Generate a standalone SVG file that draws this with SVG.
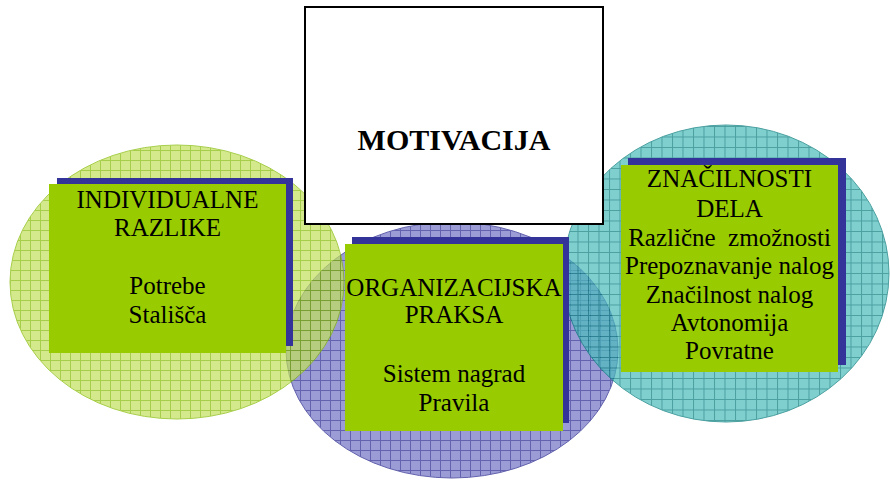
<svg xmlns="http://www.w3.org/2000/svg" width="890" height="481" viewBox="0 0 890 481">
  <style>
    .lbl { font-family: "Liberation Serif", "Times New Roman", serif; font-size: 25px; fill: #000; text-anchor: middle; white-space: pre; }
    .title { font-family: "Liberation Serif", "Times New Roman", serif; font-size: 30px; font-weight: bold; fill: #000; text-anchor: middle; }
    .card { fill: #99cc00; }
    .shadow { fill: #333399; }
  </style>
  <defs>
    <pattern id="pGreen" width="10" height="10" patternUnits="userSpaceOnUse">
      <rect width="10" height="10" fill="#c2e15b"/>
      <path d="M0 0.5H10M0.5 0V10" stroke="#83ba00" stroke-width="1"/>
    </pattern>
    <pattern id="pPurple" width="10" height="10" patternUnits="userSpaceOnUse">
      <rect width="10" height="10" fill="#7272c4"/>
      <path d="M0 0.5H10M0.5 0V10" stroke="#20208c" stroke-width="1"/>
    </pattern>
    <pattern id="pTeal" width="10.5" height="10.5" patternUnits="userSpaceOnUse">
      <rect width="10.5" height="10.5" fill="#4abcbc"/>
      <path d="M0 0.5H10.5M0.5 0V10.5" stroke="#007878" stroke-width="1"/>
    </pattern>
  </defs>
  <rect width="890" height="481" fill="#ffffff"/>

  <g id="ellipses">
    <ellipse id="ellipse-purple" cx="452" cy="350" rx="166" ry="128" fill="url(#pPurple)" stroke="#20208c" stroke-width="1" opacity="0.7"/>
    <ellipse id="ellipse-green" cx="177" cy="282" rx="167" ry="137" fill="url(#pGreen)" stroke="#83ba00" stroke-width="1" opacity="0.7"/>
    <ellipse id="ellipse-teal" cx="726" cy="273.5" rx="163" ry="148.5" fill="url(#pTeal)" stroke="#007878" stroke-width="1" opacity="0.7"/>
  </g>

  <g id="connectors"></g>

  <g id="node-individualne">
    <rect class="shadow" x="57" y="178" width="236" height="168"/>
    <rect class="card" x="49" y="184" width="237" height="169"/>
    <text class="lbl" x="167.5" y="208">INDIVIDUALNE</text>
    <text class="lbl" x="167.5" y="236">RAZLIKE</text>
    <text class="lbl" x="167.5" y="294">Potrebe</text>
    <text class="lbl" x="167.5" y="323">Stališča</text>
  </g>

  <g id="node-organizacijska">
    <rect class="shadow" x="352" y="237" width="217" height="186"/>
    <rect class="card" x="345" y="244" width="218" height="187"/>
    <text class="lbl" x="454" y="296">ORGANIZACIJSKA</text>
    <text class="lbl" x="454" y="323">PRAKSA</text>
    <text class="lbl" x="454" y="382">Sistem nagrad</text>
    <text class="lbl" x="454" y="411">Pravila</text>
  </g>

  <g id="node-znacilnosti">
    <rect class="shadow" x="628" y="158" width="218" height="207"/>
    <rect class="card" x="621" y="165" width="217" height="207"/>
    <text class="lbl" x="729.5" y="187">ZNAČILNOSTI</text>
    <text class="lbl" x="729.5" y="217">DELA</text>
    <text class="lbl" x="729.5" y="246">Različne  zmožnosti</text>
    <text class="lbl" x="729.5" y="274">Prepoznavanje nalog</text>
    <text class="lbl" x="729.5" y="303">Značilnost nalog</text>
    <text class="lbl" x="729.5" y="331">Avtonomija</text>
    <text class="lbl" x="729.5" y="359">Povratne</text>
  </g>

  <g id="node-motivacija">
    <rect x="305" y="7" width="298" height="217" fill="#ffffff" stroke="#000000" stroke-width="2"/>
    <text class="title" x="454" y="150">MOTIVACIJA</text>
  </g>
</svg>
